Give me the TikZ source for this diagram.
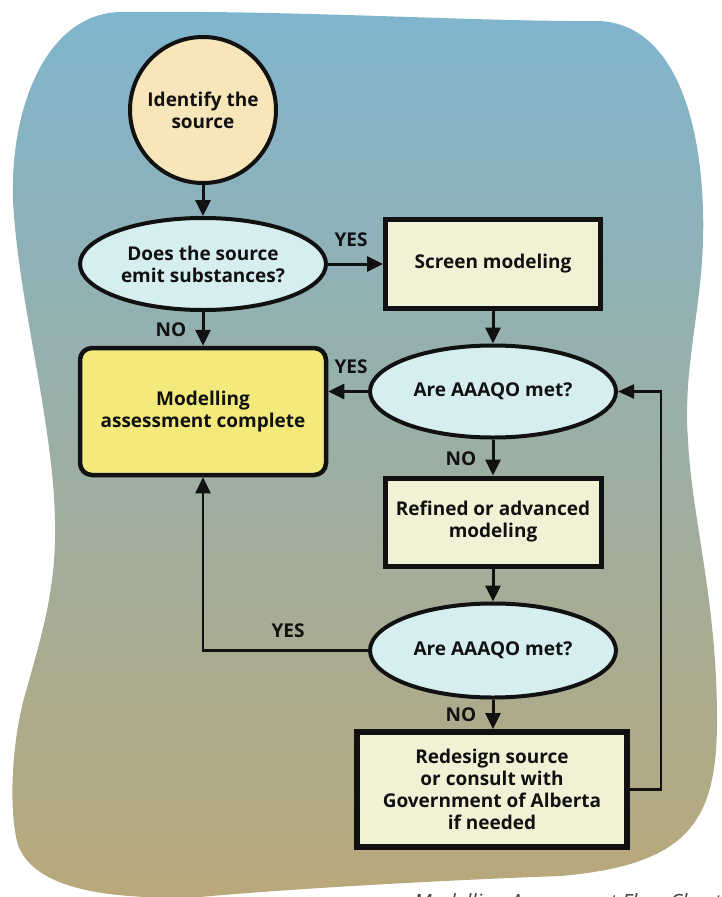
\documentclass[tikz,border=0pt]{standalone}
\usepackage{fontspec}
\setmainfont{Open Sans}
\usetikzlibrary{shapes.geometric,arrows.meta}
\definecolor{bgtop}{HTML}{7FB5CE}
\definecolor{bgmid}{HTML}{A3B0A4}
\definecolor{bgbot}{HTML}{B9A87A}
\definecolor{circfill}{HTML}{F7E6BA}
\definecolor{ellfill}{HTML}{D7EEF1}
\definecolor{boxfill}{HTML}{F1F2D5}
\definecolor{yelfill}{HTML}{F3EA7B}
\definecolor{ink}{HTML}{111111}
\definecolor{captiongray}{HTML}{444444}
\tikzset{
  txt/.style={font=\bfseries\fontsize{19}{22}\selectfont, text=ink, align=center, inner sep=0pt},
  circ/.style={txt, circle, draw=ink, line width=4pt, fill=circfill, minimum size=146pt},
  ell/.style={txt, ellipse, draw=ink, line width=4pt, fill=ellfill, minimum width=246pt, minimum height=92pt},
  sbox/.style={txt, rectangle, draw=ink, line width=5pt, fill=boxfill},
  ybox/.style={txt, rectangle, rounded corners=12pt, draw=ink, line width=4.5pt, fill=yelfill},
  lab/.style={font=\bfseries\fontsize{19}{20}\selectfont, text=ink, inner sep=0pt},
  conn/.style={draw=ink, line width=3pt, -{Triangle[length=16pt,width=15pt]}},
  thinconn/.style={draw=ink, line width=2.2pt},
}
\begin{document}
\begin{tikzpicture}[x=1pt,y=-1pt]
\useasboundingbox (0,0) rectangle (722,897);
\shade[top color=bgtop, middle color=bgmid, bottom color=bgbot]
  (120,12) .. controls (300,10) and (480,22) .. (600,21)
  .. controls (670,25) and (700,110) .. (703,210)
  .. controls (706,300) and (682,360) .. (688,440)
  .. controls (692,520) and (717,600) .. (717,720)
  .. controls (717,820) and (690,865) .. (560,876)
  .. controls (450,880) and (300,888) .. (200,897)
  .. controls (110,900) and (35,890) .. (18,845)
  .. controls (8,810) and (12,740) .. (25,695)
  .. controls (40,640) and (57,590) .. (55,520)
  .. controls (53,420) and (18,300) .. (13,200)
  .. controls (10,110) and (45,14) .. (120,12) -- cycle;

\node[circ] (id) at (203,110) {Identify the\\source};
\node[ell] (emit) at (203,264) {Does the source\\emit substances?};
\node[sbox, minimum width=215pt, minimum height=89pt] (screen) at (493,264) {Screen modeling};
\node[ybox, minimum width=246pt, minimum height=127pt] (done) at (203,411.5) {Modelling\\assessment complete};
\node[ell] (q1) at (493,391.5) {Are AAAQO met?};
\node[sbox, minimum width=216pt, minimum height=88pt] (ref) at (493,522) {Refined or advanced\\modeling};
\node[ell, minimum height=94pt] (q2) at (493,650.5) {Are AAAQO met?};
\node[sbox, line width=6pt, minimum width=270pt, minimum height=115pt] (red) at (492,789.5) {Redesign source\\or consult with\\Government of Alberta\\if needed};

\draw[conn] (id) -- (emit);
\draw[conn] (emit.east) -- (screen.west);
\draw[conn] (emit) -- (done);
\draw[conn] (screen) -- (q1);
\draw[conn] (q1.west) -- (q1.west -| done.east);
\draw[conn] (q1) -- (ref);
\draw[conn] (ref) -- (q2);
\draw[thinconn, -{Triangle[length=16pt,width=15pt]}] (q2.west) -| (done.south);
\draw[conn] (q2.south) -- (red.north -| q2.south);
\draw[thinconn, -{Triangle[length=16pt,width=14pt]}] (red.east) -- ++(31,0) coordinate (turn) |- (q1.east);

\node[lab] (l1) at (351,240) {YES};
\node[lab] (l2) at (171,330) {NO};
\node[lab] (l3) at (351,367) {YES};
\node[lab] (l4) at (461,459) {NO};
\node[lab] (l5) at (288,631) {YES};
\node[lab] (l6) at (461,715) {NO};

\node[anchor=base west, inner sep=0pt, text=captiongray, font=\itshape\fontsize{21}{24}\selectfont] (cap) at (414,909) {Modelling Assessment Flow Chart};
\end{tikzpicture}
\end{document}
